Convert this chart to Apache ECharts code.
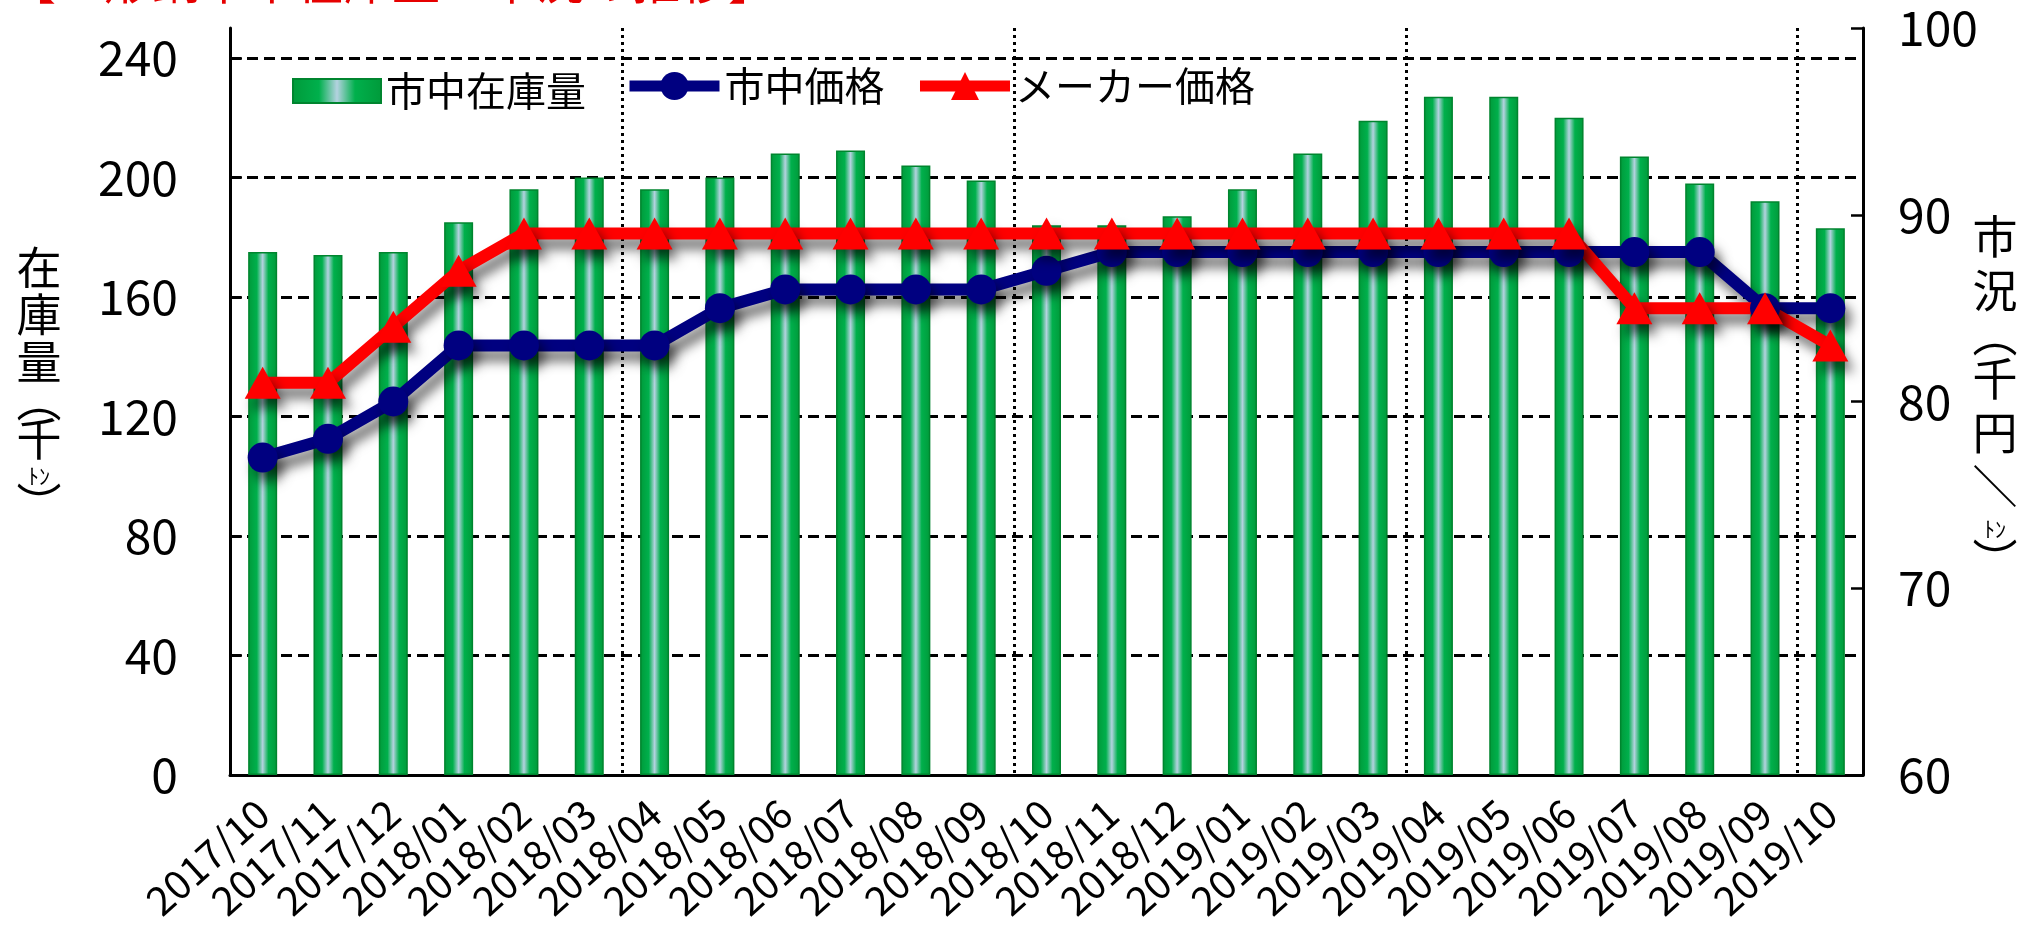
<!DOCTYPE html>
<html>
<head>
<meta charset="utf-8">
<script src="https://cdn.jsdelivr.net/npm/echarts@6/dist/echarts.min.js"></script>
<style>
    html, body {margin: 0; padding: 0; background: #fff;}
    #echartsStock {width: 2031px; height: 927px;}
</style>
</head>
<body>
<div id="echartsStock"></div>
<script>
// 月
var categories = ['2017/10','2017/11','2017/12','2018/01','2018/02','2018/03','2018/04','2018/05','2018/06',
    '2018/07','2018/08','2018/09','2018/10','2018/11','2018/12','2019/01','2019/02','2019/03','2019/04',
    '2019/05','2019/06','2019/07','2019/08','2019/09','2019/10'];
// 市中在庫量(千トン)
var stockData = [175,174,175,185,196,200,196,200,208,209,204,199,184,184,187,196,208,219,227,227,220,207,198,192,183];
// 市中価格(千円/トン)
var marketPrice = [77,78,80,83,83,83,83,85,86,86,86,86,87,88,88,88,88,88,88,88,88,88,88,85,85];
// メーカー価格(千円/トン)
var makerPrice = [81,81,84,87,89,89,89,89,89,89,89,89,89,89,89,89,89,89,89,89,89,85,85,85,83];
// 目盛
var leftTicks = [0,40,80,120,160,200,240];
var rightTicks = [60,70,80,90,100];

var font = '"Noto Sans CJK JP", "Noto Sans", sans-serif';
var shadow = {shadowColor: 'rgba(0,0,0,0.55)', shadowBlur: 12, shadowOffsetX: 6, shadowOffsetY: 10};
var mychart = echarts.init(document.getElementById('echartsStock'));

var option = {
    animation: false,
    textStyle: {fontFamily: font, color: '#000'},
    grid: {left: 230, right: 168, top: 28, bottom: 152, containLabel: false, outerBoundsMode: 'none'},
    legend: [
        {
            // 棒の凡例
            left: 287,
            top: 66,
            itemWidth: 88,
            itemHeight: 24,
            textStyle: {fontSize: 40, color: '#000', fontFamily: font},
            data: [{name: '市中在庫量', icon: 'rect'}]
        },
        {
            // 折れ線の凡例
            left: 619,
            top: 61,
            itemWidth: 90,
            itemHeight: 35,
            itemGap: 30,
            textStyle: {fontSize: 40, color: '#000', fontFamily: font},
            data: [
                {name: '市中価格', lineStyle: {width: 11}},
                {name: 'メーカー価格', lineStyle: {width: 11}}
            ]
        }
    ],
    xAxis: {
        type: 'category',
        data: categories,
        boundaryGap: true,
        axisLine: {lineStyle: {color: '#000', width: 3}},
        axisTick: {show: false},
        axisLabel: {rotate: 42, fontSize: 40, color: '#000', margin: 32, interval: 0},
        splitLine: {
            show: true,
            interval: function (index) { return index > 0 && index % 6 === 0; },
            lineStyle: {color: '#000', type: [3, 4], width: 3}
        }
    },
    yAxis: [
        {
            type: 'value',
            min: 0,
            max: 250,
            interval: 40,
            position: 'left',
            axisLine: {show: true, lineStyle: {color: '#000', width: 3}},
            axisTick: {show: true, inside: true, length: 12, customValues: leftTicks, lineStyle: {color: '#000', width: 2.5}},
            axisLabel: {fontSize: 48, color: '#000', margin: 52, customValues: leftTicks},
            splitLine: {
                show: true,
                lineStyle: {
                    color: ['rgba(0,0,0,0)', '#000', '#000', '#000', '#000', '#000', '#000', 'rgba(0,0,0,0)'],
                    type: [11, 6],
                    width: 3
                }
            }
        },
        {
            type: 'value',
            min: 60,
            max: 100,
            interval: 10,
            position: 'right',
            axisLine: {show: true, lineStyle: {color: '#000', width: 3}},
            axisTick: {show: true, inside: true, length: 12, customValues: rightTicks, lineStyle: {color: '#000', width: 2.5}},
            axisLabel: {fontSize: 48, color: '#000', margin: 35, customValues: rightTicks},
            splitLine: {show: false}
        }
    ],
    series: [
        {
            name: '市中在庫量',
            type: 'bar',
            yAxisIndex: 0,
            barWidth: 29,
            data: stockData,
            itemStyle: {
                color: {
                    type: 'linear', x: 0, y: 0, x2: 1, y2: 0,
                    colorStops: [
                        {offset: 0, color: '#009a3a'},
                        {offset: 0.3, color: '#00b04c'},
                        {offset: 0.5, color: '#b4d2e0'},
                        {offset: 0.7, color: '#00b04c'},
                        {offset: 1, color: '#009a3a'}
                    ]
                },
                borderColor: '#00852f',
                borderWidth: 1.5
            }
        },
        {
            name: '市中価格',
            type: 'line',
            yAxisIndex: 1,
            data: marketPrice,
            symbol: 'circle',
            symbolSize: 30,
            lineStyle: Object.assign({color: '#000080', width: 12}, shadow),
            itemStyle: Object.assign({color: '#000080'}, shadow)
        },
        {
            name: 'メーカー価格',
            type: 'line',
            yAxisIndex: 1,
            data: makerPrice,
            symbol: 'triangle',
            symbolSize: [36, 32],
            lineStyle: Object.assign({color: '#ff0000', width: 12}, shadow),
            itemStyle: Object.assign({color: '#ff0000'}, shadow)
        }
    ],
    graphic: [
        {
            // 上端で切れているタイトル
            type: 'text',
            x: 8,
            y: 5,
            style: {text: '【Ｈ形鋼市中在庫量・市況の推移】', fontSize: 48, fontFamily: font, fill: '#e60000', verticalAlign: 'bottom'}
        },
        {
            type: 'text',
            x: 39,
            y: 244,
            style: {
                text: '在\n庫\n量\n{b|︵}\n千\n{s|ﾄﾝ}\n{b|︶}',
                align: 'center', verticalAlign: 'top',
                fontSize: 45, lineHeight: 47, fontFamily: font, fill: '#000',
                rich: {
                    b: {fontSize: 45, lineHeight: 30, fontFamily: font},
                    s: {fontSize: 22, lineHeight: 28, fontFamily: font}
                }
            }
        },
        {
            type: 'text',
            x: 1995,
            y: 210,
            style: {
                text: '市\n況\n{b|︵}\n千\n円\n＼\n{s|ﾄﾝ}\n{b|︶}',
                align: 'center', verticalAlign: 'top',
                fontSize: 45, lineHeight: 54, fontFamily: font, fill: '#000',
                rich: {
                    b: {fontSize: 45, lineHeight: 34, fontFamily: font},
                    s: {fontSize: 22, lineHeight: 30, fontFamily: font}
                }
            }
        }
    ]
};
mychart.setOption(option);
</script>
</body>
</html>
